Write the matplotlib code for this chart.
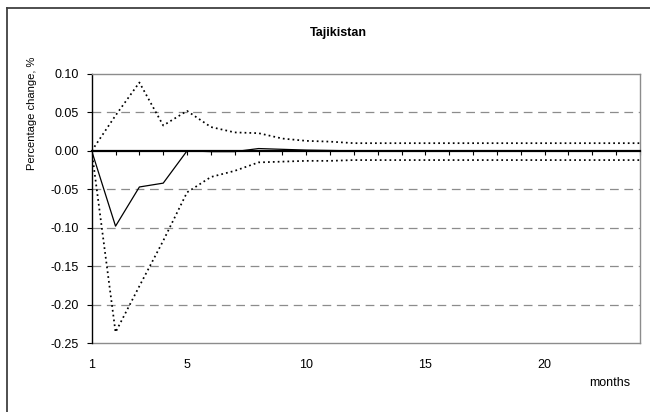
import matplotlib
matplotlib.use('Agg')
import matplotlib.pyplot as plt
from matplotlib.lines import Line2D

plt.rcParams['font.family'] = ['Liberation Sans', 'DejaVu Sans']

# ── DATA ──────────────────────────────────────────────────────────────────────
months   = list(range(1, 25))
response = [0.0, -0.098, -0.047, -0.042, 0.0, -0.001, -0.001, 0.003, 0.002, 0.001,
            0.0005, 0.0, 0.0, 0.0, 0.0, 0.0, 0.0, 0.0, 0.0, 0.0, 0.0, 0.0, 0.0, 0.0]
upper    = [0.0, 0.046, 0.089, 0.033, 0.052, 0.031, 0.024, 0.023, 0.016, 0.013,
            0.012, 0.010, 0.010, 0.010, 0.010, 0.010, 0.010, 0.010, 0.010, 0.010,
            0.010, 0.010, 0.010, 0.010]
lower    = [0.0, -0.236, -0.176, -0.117, -0.054, -0.034, -0.026, -0.015, -0.014, -0.013,
            -0.013, -0.012, -0.012, -0.012, -0.012, -0.012, -0.012, -0.012, -0.012, -0.012,
            -0.012, -0.012, -0.012, -0.012]
yticks   = [-0.25, -0.20, -0.15, -0.10, -0.05, 0.00, 0.05, 0.10]
xlabels  = [1, 5, 10, 15, 20]

GRID = '#8c8c8c'
FS = 9

fig = plt.figure(figsize=(6.5, 4.12), dpi=100)
ax = fig.add_axes([91.7/650, 1 - 343/412, (640 - 91.7)/650, (343 - 74)/412])

# dashed gridlines (not at the frame or the zero line)
for y in yticks:
    if -0.25 < y < 0.10 and y != 0:
        ax.axhline(y, color=GRID, lw=0.9, ls=(0, (7, 4.5)), zorder=1)

dot = (0, (1, 1.8))
ax.plot(months, upper, color='black', lw=1.25, ls=dot, zorder=3)
ax.plot(months, lower, color='black', lw=1.25, ls=dot, zorder=3)
ax.plot(months, response, color='black', lw=0.9, zorder=4)

ax.set_xlim(1, 24)
ax.set_ylim(-0.25, 0.10)

# frame: black left axis, grey border elsewhere, x axis through zero
ax.spines['left'].set_color('black')
ax.spines['left'].set_linewidth(1.0)
for s in ['top', 'right']:
    ax.spines[s].set_color(GRID)
    ax.spines[s].set_linewidth(1.0)
ax.spines['bottom'].set_position(('data', 0))
ax.spines['bottom'].set_color('black')
ax.spines['bottom'].set_linewidth(1.6)
ax.spines['bottom'].set_zorder(5)
ax.plot([0, 1], [0, 0], transform=ax.transAxes, color=GRID, lw=1.0, clip_on=False)

ax.set_yticks(yticks)
ax.set_yticklabels([f'{y:.2f}' for y in yticks], fontsize=FS)
ax.tick_params(axis='y', direction='out', length=3.5, width=0.8, pad=6)
ax.set_xticks(months)
ax.tick_params(axis='x', direction='out', length=3.2, width=0.8, labelbottom=False)

for m in xlabels:
    ax.text(m, -0.082, str(m), transform=ax.get_xaxis_transform(),
            ha='center', va='center', fontsize=FS)

fig.text(610/650, 1 - 383/412, 'months', ha='center', va='center', fontsize=FS)
fig.text(338/650, 1 - 33/412, 'Tajikistan', ha='center', va='center',
         fontsize=FS, fontweight='bold')
fig.text(32/650, 1 - 113/412, 'Percentage change, %', ha='center', va='center',
         rotation=90, fontsize=8)

# chart area border
fig.add_artist(Line2D([7/650, 7/650], [0, 1 - 8/412], color='#404040', lw=1.3))
fig.add_artist(Line2D([7/650, 1], [1 - 8/412, 1 - 8/412], color='#404040', lw=1.3))

fig.savefig('out.png', dpi=100)
